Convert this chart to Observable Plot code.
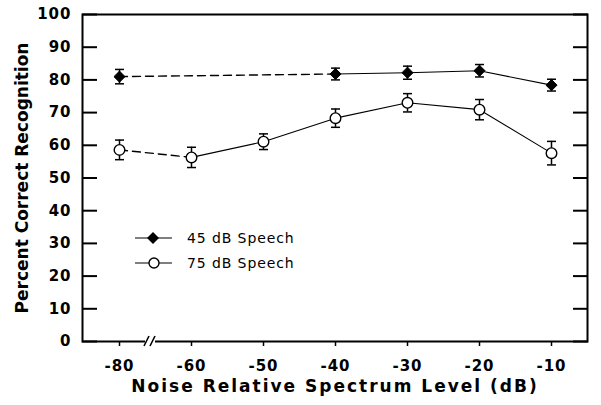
<!DOCTYPE html>
<html><head><meta charset="utf-8">
<script src="https://cdn.jsdelivr.net/npm/d3@7"></script>
<script src="https://cdn.jsdelivr.net/npm/@observablehq/plot@0.6"></script>
<style>
body{margin:0;background:#fff;}
#wrap{position:relative;width:601px;height:405px;}
.leg{position:absolute;left:134px;height:16px;display:flex;align-items:center;font:14px "DejaVu Sans",sans-serif;letter-spacing:0.9px;color:#000;}
.leg svg{margin-right:14px;}
</style></head><body><div id="wrap"></div>
<script>
// categories (noise relative spectrum level, dB)
const levels = ["-80", "-60", "-50", "-40", "-30", "-20", "-10"];
const yTicks = [0, 10, 20, 30, 40, 50, 60, 70, 80, 90, 100];
// 45 dB speech
const levels45 = ["-80", "-40", "-30", "-20", "-10"];
const mean45 = [81.0, 81.8, 82.2, 82.8, 78.4];
const err45 = [2.2, 1.8, 2.0, 1.9, 1.8];
// 75 dB speech
const levels75 = ["-80", "-60", "-50", "-40", "-30", "-20", "-10"];
const mean75 = [58.6, 56.3, 61.1, 68.3, 73.0, 70.9, 57.6];
const err75 = [3.0, 3.1, 2.4, 2.8, 2.8, 3.1, 3.6];
const seriesNames = ["45 dB Speech", "75 dB Speech"];
const xTitle = "Noise Relative Spectrum Level (dB)";
const yTitle = "Percent Correct Recognition";

const rows45 = levels45.map((x, i) => ({x, y: mean45[i], e: err45[i]}));
const rows75 = levels75.map((x, i) => ({x, y: mean75[i], e: err75[i]}));

const capSymbol = {draw(ctx) { ctx.moveTo(-4.5, 0); ctx.lineTo(4.5, 0); }};

function errorMarks(rows) {
  return [
    Plot.ruleX(rows, {x: "x", y1: d => d.y - d.e, y2: d => d.y + d.e, strokeWidth: 1.5}),
    Plot.dot(rows, {x: "x", y: d => d.y + d.e, symbol: capSymbol, stroke: "black", strokeWidth: 1.5, fill: "none"}),
    Plot.dot(rows, {x: "x", y: d => d.y - d.e, symbol: capSymbol, stroke: "black", strokeWidth: 1.5, fill: "none"})
  ];
}

function axisBreak(index, scales, values, dims) {
  const xm = (scales.x(levels[0]) + scales.x(levels[1])) / 2 - 5;
  const yb = dims.height - dims.marginBottom;
  const g = d3.create("svg:g");
  g.append("rect").attr("x", xm - 5).attr("y", yb - 3).attr("width", 10).attr("height", 6).attr("fill", "white");
  g.append("path")
    .attr("d", `M${xm - 6},${yb + 5}L${xm - 1},${yb - 5}M${xm},${yb + 5}L${xm + 5},${yb - 5}`)
    .attr("stroke", "black").attr("stroke-width", 1.6).attr("fill", "none");
  return g.node();
}

const chart = Plot.plot({
  width: 601, height: 405,
  marginLeft: 82, marginRight: 14, marginTop: 14, marginBottom: 64,
  style: {fontFamily: '"DejaVu Sans", sans-serif', fontWeight: "bold", fontSize: "15px", color: "black", background: "white", letterSpacing: "1px"},
  x: {type: "point", domain: levels, padding: 0.5, label: null},
  y: {domain: [0, 100], label: null},
  marks: [
    Plot.line(rows45.slice(0, 2), {x: "x", y: "y", strokeWidth: 1.4, strokeDasharray: "8,5"}),
    Plot.line(rows45.slice(1), {x: "x", y: "y", strokeWidth: 1.1}),
    Plot.line(rows75.slice(0, 2), {x: "x", y: "y", strokeWidth: 1.4, strokeDasharray: "8,5"}),
    Plot.line(rows75.slice(1), {x: "x", y: "y", strokeWidth: 1.1}),
    ...errorMarks(rows45),
    ...errorMarks(rows75),
    Plot.dot(rows45, {x: "x", y: "y", symbol: "diamond2", r: 5, fill: "black", stroke: "black", strokeWidth: 1}),
    Plot.dot(rows75, {x: "x", y: "y", r: 5.3, fill: "white", stroke: "black", strokeWidth: 1.4}),
    Plot.frame({strokeWidth: 2}),
    Plot.axisY(yTicks, {tickSize: -15, tickPadding: 26, strokeWidth: 2, label: null}),
    Plot.axisY(yTicks, {anchor: "right", tickSize: -15, strokeWidth: 2, tickFormat: () => "", label: null}),
    Plot.axisX({tickSize: 5, tickPadding: 14, strokeWidth: 1.5, label: null}),
    axisBreak,
    Plot.text([yTitle], {text: d => d, frameAnchor: "left", dx: -60, rotate: -90, textAnchor: "middle", lineAnchor: "middle", fontSize: 17, fontWeight: "bold"}),
    Plot.text([xTitle], {text: d => d, frameAnchor: "bottom", dy: 45, textAnchor: "middle", lineAnchor: "middle", fontSize: 17, fontWeight: "bold"})
  ]
});

d3.select(chart).selectAll("text").filter(function() { return this.textContent === xTitle; }).style("letter-spacing", "2px");
d3.select(chart).selectAll("text").filter(function() { return this.textContent === yTitle; }).style("letter-spacing", "0px");

const wrap = document.getElementById("wrap");
wrap.appendChild(chart);

// legend
const legTops = [230, 255];
seriesNames.forEach((name, i) => {
  const div = document.createElement("div");
  div.className = "leg";
  div.style.top = legTops[i] + "px";
  const marker = i === 0
    ? '<path d="M19,2L25,8L19,14L13,8Z" fill="black"/>'
    : '<circle cx="20" cy="8" r="5" fill="white" stroke="black" stroke-width="1.4"/>';
  div.innerHTML = `<svg width="39" height="16"><line x1="1" y1="8" x2="38" y2="8" stroke="black" stroke-width="1.1"/>${marker}</svg><span>${name}</span>`;
  wrap.appendChild(div);
});
</script>
</body></html>
